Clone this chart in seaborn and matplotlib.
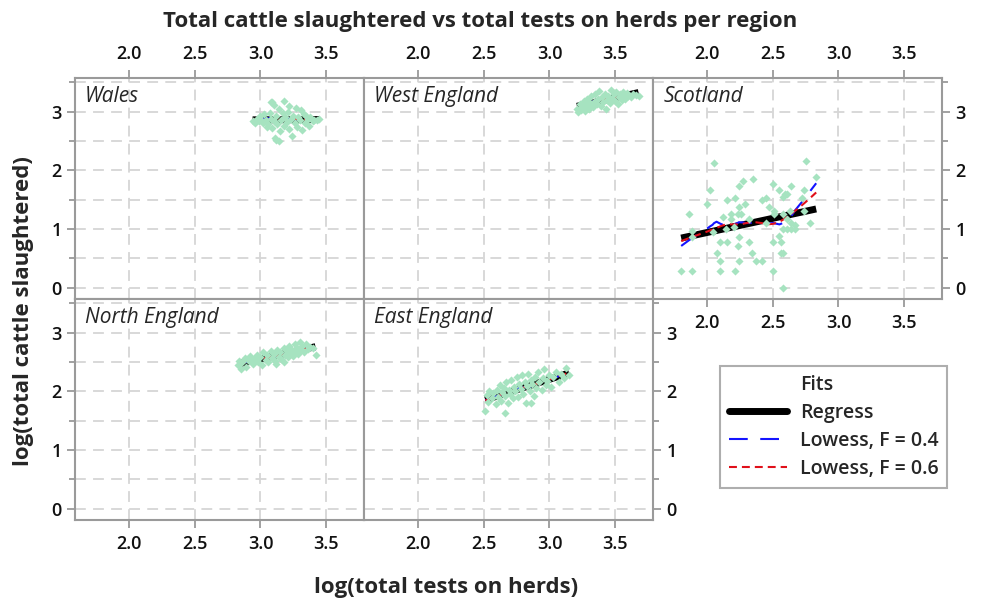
import numpy as np
import pandas as pd
import seaborn as sns
import matplotlib.pyplot as plt
from matplotlib.lines import Line2D
from matplotlib.ticker import MultipleLocator

# values (log10 tests, log10 slaughtered)
wales_x = [2.94, 2.96, 2.97, 2.99, 3.00, 3.01, 3.02, 3.03, 3.04, 3.05, 3.06, 3.07, 3.08, 3.09,
           3.10, 3.10, 3.11, 3.12, 3.13, 3.14, 3.15, 3.16, 3.17, 3.18, 3.19, 3.20, 3.21, 3.22,
           3.23, 3.24, 3.25, 3.26, 3.27, 3.28, 3.29, 3.30, 3.31, 3.32, 3.33, 3.34, 3.35, 3.36,
           3.37, 3.38, 3.40, 3.41, 3.43, 3.45, 3.12, 3.14, 3.18, 3.22, 3.09, 3.08]
wales_y = [2.84, 2.80, 2.88, 2.84, 2.92, 2.83, 2.80, 2.95, 2.86, 2.74, 2.79, 2.98, 2.88, 2.72,
           2.83, 3.11, 2.55, 2.93, 2.78, 3.04, 2.67, 2.86, 2.97, 2.75, 2.90, 2.82, 3.00, 2.70,
           2.88, 2.58, 2.93, 2.80, 3.06, 2.74, 2.90, 2.85, 3.02, 2.68, 2.95, 2.80, 2.93, 2.88,
           2.76, 2.90, 2.84, 2.86, 2.86, 2.87, 2.52, 2.50, 3.18, 3.10, 3.17, 3.17]

west_x = [3.21, 3.22, 3.23, 3.24, 3.25, 3.26, 3.27, 3.28, 3.29, 3.30, 3.31, 3.32, 3.33, 3.34,
          3.35, 3.36, 3.37, 3.38, 3.39, 3.40, 3.41, 3.42, 3.43, 3.44, 3.45, 3.46, 3.47, 3.48,
          3.49, 3.50, 3.51, 3.52, 3.53, 3.54, 3.55, 3.56, 3.57, 3.58, 3.59, 3.60, 3.62, 3.64,
          3.66, 3.68]
west_y = [3.05, 2.99, 3.12, 3.02, 3.08, 3.18, 3.01, 3.10, 3.22, 3.05, 3.14, 3.26, 3.08, 3.17,
          3.30, 3.12, 3.21, 3.35, 3.10, 3.24, 3.16, 3.30, 3.05, 3.20, 3.27, 3.14, 3.36, 3.22,
          3.29, 3.18, 3.33, 3.12, 3.25, 3.30, 3.20, 3.34, 3.26, 3.22, 3.31, 3.27, 3.24, 3.30,
          3.28, 3.27]

scot_x = [1.80, 1.88, 1.86, 1.88, 1.88, 2.05, 2.02, 2.00, 2.04, 2.07, 2.10, 2.10, 2.10, 2.12,
          2.14, 2.15, 2.15, 2.18, 2.18, 2.20, 2.21, 2.21, 2.23, 2.24, 2.24, 2.27, 2.26, 2.23,
          2.24, 2.24, 2.29, 2.32, 2.32, 2.34, 2.35, 2.37, 2.42, 2.42, 2.45, 2.45, 2.47, 2.50,
          2.50, 2.50, 2.51, 2.55, 2.55, 2.56, 2.56, 2.58, 2.58, 2.58, 2.59, 2.61, 2.64, 2.58,
          2.61, 2.64, 2.67, 2.67, 2.64, 2.61, 2.63, 2.58, 2.72, 2.74, 2.75, 2.74, 2.78, 2.83,
          2.51]
scot_y = [0.29, 0.29, 1.25, 0.96, 0.86, 2.13, 1.67, 1.42, 0.95, 0.60, 0.78, 0.46, 0.29, 1.21,
          1.00, 0.78, 1.50, 1.25, 1.17, 1.04, 1.53, 0.29, 1.25, 1.38, 1.74, 1.81, 1.25, 0.71,
          0.86, 0.46, 1.42, 1.17, 0.78, 0.60, 1.85, 0.46, 0.46, 1.50, 1.53, 1.10, 1.38, 1.77,
          0.29, 0.78, 1.25, 1.67, 0.89, 0.78, 0.60, 0.60, 0.00, 1.55, 1.60, 1.60, 1.74, 1.00,
          1.00, 1.00, 1.00, 1.07, 1.10, 1.17, 1.31, 1.25, 1.53, 1.67, 2.16, 1.31, 1.10, 1.89,
          1.31]

north_x = [2.83, 2.84, 2.85, 2.86, 2.88, 2.89, 2.91, 2.92, 2.94, 2.95, 2.97, 2.98, 3.00, 3.01,
           3.02, 3.04, 3.05, 3.06, 3.08, 3.09, 3.10, 3.11, 3.13, 3.14, 3.15, 3.16, 3.18, 3.19,
           3.20, 3.21, 3.22, 3.23, 3.24, 3.25, 3.26, 3.27, 3.28, 3.29, 3.30, 3.31, 3.32, 3.33,
           3.35, 3.36, 3.38, 3.40, 3.42, 3.12, 3.18]
north_y = [2.45, 2.52, 2.38, 2.49, 2.56, 2.42, 2.51, 2.60, 2.47, 2.55, 2.62, 2.50, 2.58, 2.45,
           2.66, 2.54, 2.61, 2.49, 2.68, 2.57, 2.63, 2.52, 2.70, 2.59, 2.66, 2.55, 2.73, 2.62,
           2.69, 2.58, 2.77, 2.65, 2.71, 2.60, 2.80, 2.68, 2.74, 2.63, 2.83, 2.70, 2.77, 2.66,
           2.80, 2.72, 2.76, 2.74, 2.62, 2.46, 2.49]

east_x = [2.51, 2.52, 2.53, 2.54, 2.56, 2.57, 2.59, 2.60, 2.61, 2.62, 2.63, 2.64, 2.65, 2.66,
          2.67, 2.68, 2.69, 2.70, 2.71, 2.72, 2.73, 2.74, 2.75, 2.76, 2.77, 2.78, 2.79, 2.80,
          2.81, 2.82, 2.83, 2.84, 2.85, 2.86, 2.87, 2.88, 2.89, 2.90, 2.91, 2.92, 2.94, 2.95,
          2.96, 2.97, 2.98, 3.00, 3.01, 3.03, 3.05, 3.07, 3.09, 3.11, 3.13, 3.15, 2.66, 2.86]
east_y = [1.67, 1.93, 1.82, 2.00, 1.88, 1.97, 1.78, 2.03, 1.90, 2.10, 1.84, 1.98, 2.06, 1.92,
          2.15, 1.80, 2.02, 1.95, 2.20, 1.88, 2.08, 2.00, 2.25, 1.90, 2.12, 2.04, 2.28, 1.95,
          2.16, 1.80, 2.09, 2.30, 2.00, 2.20, 2.12, 1.92, 2.25, 2.05, 2.32, 2.15, 2.02, 2.22,
          2.38, 2.10, 2.18, 2.28, 2.08, 2.25, 2.32, 2.15, 2.30, 2.22, 2.40, 2.28, 1.63, 1.80]

regions = ["Wales", "West England", "Scotland", "North England", "East England"]
xs = [wales_x, west_x, scot_x, north_x, east_x]
ys = [wales_y, west_y, scot_y, north_y, east_y]

df = pd.concat([pd.DataFrame({"region": r, "tests": x, "slaughtered": y})
                for r, x, y in zip(regions, xs, ys)], ignore_index=True)


def lowess(x, y, frac):
    x = np.asarray(x, float)
    y = np.asarray(y, float)
    order = np.argsort(x)
    x, y = x[order], y[order]
    n = len(x)
    r = int(np.ceil(frac * n))
    fit = np.zeros(n)
    for i in range(n):
        d = np.abs(x - x[i])
        h = max(np.sort(d)[r - 1], 1e-9)
        w = np.clip(1 - (d / h) ** 3, 0, 1) ** 3
        W = w.sum()
        mx = (w * x).sum() / W
        my = (w * y).sum() / W
        sxx = (w * (x - mx) ** 2).sum()
        b = (w * (x - mx) * (y - my)).sum() / sxx if sxx > 0 else 0
        fit[i] = my + b * (x[i] - mx)
    return x, fit


sns.set_theme(style="white")
plt.rcParams["font.family"] = ["Open Sans", "DejaVu Sans"]

green = "#a6e3c0"
grey = "#9a9a9a"
blue = "#1414ff"
red = "#e0101a"

fig, axes = plt.subplots(2, 3, figsize=(9.84, 6.02), dpi=100, sharex=True, sharey=True)
fig.subplots_adjust(left=75 / 984, right=942 / 984, top=1 - 78 / 602, bottom=1 - 520 / 602,
                    wspace=0, hspace=0)

panels = [axes[0, 0], axes[0, 1], axes[0, 2], axes[1, 0], axes[1, 1]]

for ax, region in zip(panels, regions):
    sub = df[df["region"] == region]
    x = sub["tests"].values
    y = sub["slaughtered"].values
    b, a = np.polyfit(x, y, 1)
    xl = np.array([x.min(), x.max()])
    ax.plot(xl, a + b * xl, color="black", lw=5, solid_capstyle="butt", zorder=2)
    lx, ly = lowess(x, y, 0.4)
    ax.plot(lx, ly, color=blue, lw=1.5, dashes=(9, 6), zorder=3)
    lx, ly = lowess(x, y, 0.6)
    ax.plot(lx, ly, color=red, lw=1.5, dashes=(3.8, 2.4), zorder=3)
    sns.scatterplot(data=sub, x="tests", y="slaughtered", ax=ax, marker="D", s=17,
                    color=green, linewidth=0, zorder=4)
    ax.text(0.035, 0.965, region, transform=ax.transAxes, fontsize=15, style="italic",
            ha="left", va="top")

for ax in axes.flat:
    ax.set_xlim(1.585, 3.79)
    ax.set_ylim(-0.19, 3.57)
    ax.set_xlabel("")
    ax.set_ylabel("")
    ax.xaxis.set_major_locator(MultipleLocator(0.5))
    ax.yaxis.set_major_locator(MultipleLocator(1))
    ax.yaxis.set_minor_locator(MultipleLocator(0.5))
    ax.grid(True, which="both", color="#d6d6d6", lw=1.3, ls=(0, (6, 4)), zorder=0)
    ax.grid(False, which="minor", axis="x")
    for s in ax.spines.values():
        s.set_color(grey)
        s.set_linewidth(1.5)
    ax.tick_params(which="both", direction="out", color=grey, width=1.3,
                   labelsize=13, labelcolor="#111111",
                   bottom=False, top=False, left=False, right=False,
                   labelbottom=False, labeltop=False, labelleft=False, labelright=False)
    ax.tick_params(which="major", length=6)
    ax.tick_params(which="minor", length=4)
    ax.tick_params(axis="x", which="major", pad=5)

for ax in axes[0, :]:
    ax.tick_params(axis="x", top=True, labeltop=True)
axes[0, 2].tick_params(axis="x", bottom=True, labelbottom=True)
for ax in axes[1, :2]:
    ax.tick_params(axis="x", bottom=True, labelbottom=True)
for ax in axes[:, 0]:
    ax.tick_params(axis="y", which="both", left=True, labelleft=True)
axes[0, 2].tick_params(axis="y", which="both", right=True, labelright=True)
axes[1, 1].tick_params(axis="y", which="both", right=True, labelright=True)

for ax in axes.flat:
    ax.xaxis.set_major_formatter(plt.FormatStrFormatter("%.1f"))
    ax.yaxis.set_major_formatter(plt.FormatStrFormatter("%d"))
    for lab in ax.get_xticklabels(which="both") + ax.get_yticklabels(which="both"):
        lab.set_fontweight("semibold")

axes[1, 2].set_visible(False)

handles = [
    Line2D([], [], color="none", label="Fits"),
    Line2D([], [], color="black", lw=5, label="Regress"),
    Line2D([], [], color=blue, lw=1.5, dashes=(9, 6), label="Lowess, F = 0.4"),
    Line2D([], [], color=red, lw=1.5, dashes=(3.8, 2.4), label="Lowess, F = 0.6"),
]
leg = fig.legend(handles=handles, loc="upper left", bbox_to_anchor=(720 / 984, 1 - 366 / 602),
                 frameon=True, fancybox=False, edgecolor=grey, handlelength=3.0,
                 prop={"size": 14, "weight": "semibold"}, labelspacing=0.42,
                 borderpad=0.45, handletextpad=0.65, borderaxespad=0)
leg.get_frame().set_linewidth(1.5)

fig.text(480 / 984, 1 - 22 / 602, "Total cattle slaughtered vs total tests on herds per region",
         ha="center", va="center", fontsize=16, fontweight="bold")
fig.text(446 / 984, 1 - 588 / 602, "log(total tests on herds)", ha="center", va="center",
         fontsize=16, fontweight="bold")
fig.text(24 / 984, 1 - 311 / 602, "log(total cattle slaughtered)", ha="center", va="center",
         rotation=90, fontsize=16, fontweight="bold")

fig.savefig("out.png", dpi=100)
